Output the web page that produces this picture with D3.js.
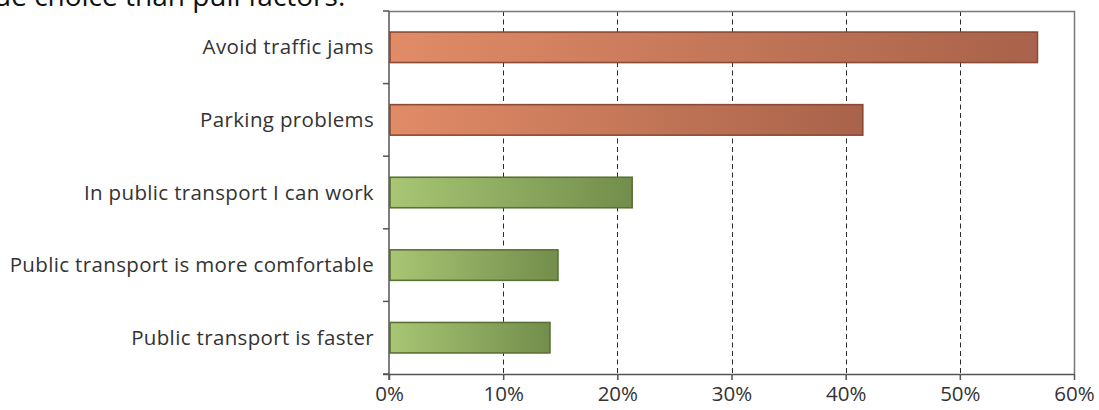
<!DOCTYPE html>
<html>
<head>
<meta charset="utf-8">
<script src="https://cdn.jsdelivr.net/npm/d3@7/dist/d3.min.js"></script>
<style>
  html, body { margin: 0; padding: 0; background: #fff; }
  svg { display: block; }
  text { font-family: "Open Sans", "Noto Sans", sans-serif; }
</style>
</head>
<body>
<svg id="chart" width="1099" height="410"></svg>
<script>
// Reasons for choosing a travel mode (share of respondents)
const categories = [
  "Avoid traffic jams",
  "Parking problems",
  "In public transport I can work",
  "Public transport is more comfortable",
  "Public transport is faster"
];
const values = [0.568, 0.415, 0.213, 0.148, 0.141];
const groups = ["push", "push", "pull", "pull", "pull"];
const xTicks = [0, 0.1, 0.2, 0.3, 0.4, 0.5, 0.6];

const svg = d3.select("#chart");
const plotL = 389, plotR = 1074, plotT = 11, plotB = 374;

// Heading text running above the chart
svg.append("text")
  .attr("x", -6).attr("y", 6)
  .attr("font-size", 28)
  .attr("fill", "#111")
  .text("de choice than pull factors.");

const x = d3.scaleLinear().domain([0, 0.6]).range([plotL, plotR]);
const y = d3.scaleBand().domain(categories).range([plotT, plotB]).paddingInner(0.58).paddingOuter(0.29);

// Gradients for the two groups of bars
const defs = svg.append("defs");
const grads = {
  push: ["#E18B67", "#A8634A"],
  pull: ["#A8C674", "#738D4B"]
};
Object.entries(grads).forEach(([k, [c0, c1]]) => {
  const g = defs.append("linearGradient").attr("id", "g-" + k)
    .attr("x1", "0%").attr("x2", "100%").attr("y1", "0%").attr("y2", "0%");
  g.append("stop").attr("offset", "0%").attr("stop-color", c0);
  g.append("stop").attr("offset", "100%").attr("stop-color", c1);
});
const strokes = { push: "#8A4A35", pull: "#5A7236" };

// Dashed vertical gridlines
svg.append("g")
  .selectAll("line")
  .data(xTicks.filter(t => t > 0 && t < 0.6))
  .join("line")
  .attr("x1", d => Math.round(x(d)) + 0.5).attr("x2", d => Math.round(x(d)) + 0.5)
  .attr("y1", plotT).attr("y2", plotB)
  .attr("stroke", "#2a2a2a").attr("stroke-width", 1)
  .attr("stroke-dasharray", "5,3.5");

// Plot frame (top and right)
svg.append("path")
  .attr("d", `M${plotL},${plotT + 0.5}H${plotR + 0.5}V${plotB}`)
  .attr("fill", "none").attr("stroke", "#777").attr("stroke-width", 1.5);

// Bars
svg.append("g")
  .selectAll("rect")
  .data(categories)
  .join("rect")
  .attr("x", x(0) + 1)
  .attr("y", d => y(d))
  .attr("width", (d, i) => x(values[i]) - x(0) - 1)
  .attr("height", y.bandwidth())
  .attr("fill", (d, i) => `url(#g-${groups[i]})`)
  .attr("stroke", (d, i) => strokes[groups[i]])
  .attr("stroke-width", 1.6);

// Y axis: category ticks sit between the bars
const yAxis = svg.append("g");
yAxis.append("line")
  .attr("x1", plotL).attr("x2", plotL).attr("y1", plotT).attr("y2", plotB + 6)
  .attr("stroke", "#555").attr("stroke-width", 1.5);
yAxis.selectAll("line.tick")
  .data(d3.range(categories.length + 1))
  .join("line").attr("class", "tick")
  .attr("x1", plotL - 6).attr("x2", plotL)
  .attr("y1", i => plotT + i * (plotB - plotT) / categories.length)
  .attr("y2", i => plotT + i * (plotB - plotT) / categories.length)
  .attr("stroke", "#555").attr("stroke-width", 1.5);
yAxis.selectAll("text")
  .data(categories)
  .join("text")
  .attr("x", plotL - 15)
  .attr("y", d => y(d) + y.bandwidth() / 2)
  .attr("dy", "0.35em")
  .attr("text-anchor", "end")
  .attr("font-size", 20.5)
  .attr("letter-spacing", 0.35)
  .attr("fill", "#333")
  .text(d => d);

// X axis
const xAxis = svg.append("g").attr("transform", `translate(0,${plotB})`)
  .call(d3.axisBottom(x).tickValues(xTicks).tickFormat(d3.format(".0%")).tickSize(6).tickPadding(6));
xAxis.select(".domain").attr("stroke", "#555").attr("stroke-width", 1.5)
  .attr("d", `M${plotL - 6},0.5H${plotR}`);
xAxis.selectAll(".tick line").attr("stroke", "#555").attr("stroke-width", 1.5);
xAxis.selectAll(".tick text")
  .attr("font-size", 20.5).attr("fill", "#333")
  .attr("font-family", "'Open Sans', 'Noto Sans', sans-serif");
</script>
</body>
</html>
